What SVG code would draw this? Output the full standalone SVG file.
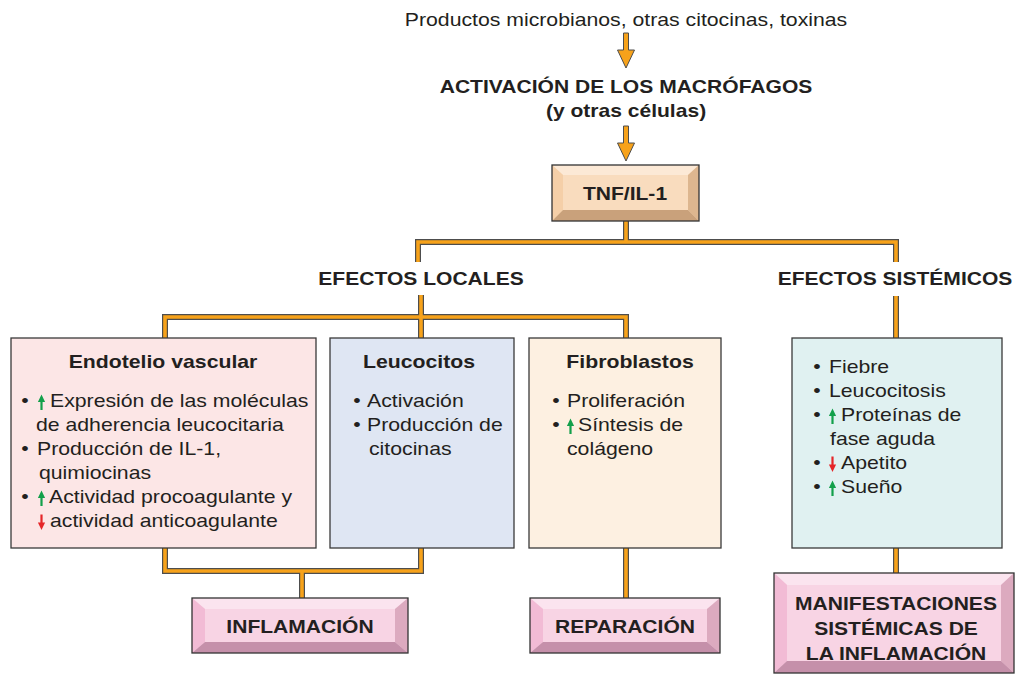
<svg xmlns="http://www.w3.org/2000/svg" xmlns:xlink="http://www.w3.org/1999/xlink" width="1015" height="674" viewBox="0 0 1015 674">
<style>
  text { font-family: "Liberation Sans", Arial, sans-serif; font-size: 18px; fill: #231f20; }
  .b { font-weight: bold; }
  .m { text-anchor: middle; }
  .box { stroke: #3a3a3a; stroke-width: 1.3; }
  .cout { fill: none; stroke: #4d4d4d; stroke-width: 6; stroke-linejoin: miter; }
  .cin { fill: none; stroke: #f7a21a; stroke-width: 3.6; stroke-linejoin: miter; }
  .arrow { fill: #f7a21a; stroke: #4d4d4d; stroke-width: 1; }
  .edge { fill: none; stroke: #333; stroke-width: 1.3; }
</style>
<defs>
  <path id="up" d="M0 -15.5 L3.6 -8 H1.1 V0 H-1.1 V-8 H-3.6 Z" fill="#13a04b"/>
  <path id="dn" d="M0 0 L3.6 -7.5 H1.1 V-15.5 H-1.1 V-7.5 H-3.6 Z" fill="#e52629"/>
</defs>
<rect width="1015" height="674" fill="#ffffff"/>

<g id="connectors">
  <path class="arrow" d="M623.5 33 H628.5 V50 H634.5 L626 68 L617.5 50 H623.5 Z"/>
  <path class="arrow" d="M623.5 126 H628.5 V143 H634.5 L626 161 L617.5 143 H623.5 Z"/>
  <path class="cout" d="M418 262 V242 H896 V262 M626 221 V242 M165 338 V317 H626 V338 M421 295 V338 M896 296 V338 M165 548 V571 H421 V548 M302 571 V598 M626 548 V598 M896 548 V573"/>
  <path class="cin" d="M418 262 V242 H896 V262 M626 221 V242 M165 338 V317 H626 V338 M421 295 V338 M896 296 V338 M165 548 V571 H421 V548 M302 571 V598 M626 548 V598 M896 548 V573"/>
</g>

<g id="source">
  <text class="m" transform="translate(626,26) scale(1.18,1)">Productos microbianos, otras citocinas, toxinas</text>
</g>

<g id="activacion">
  <text class="b m" transform="translate(626,93) scale(1.17,1)">ACTIVACIÓN DE LOS MACRÓFAGOS</text>
  <text class="b m" transform="translate(626,117) scale(1.17,1)">(y otras células)</text>
</g>

<g id="tnf">
  <rect x="552" y="165" width="147" height="56" fill="#f9dcbe"/>
  <polygon points="552,165 699,165 688,175 563,175" fill="#fce9d6"/>
  <polygon points="552,165 563,175 563,210 552,221" fill="#f5cfa8"/>
  <polygon points="699,165 699,221 688,210 688,175" fill="#ddb68f"/>
  <polygon points="552,221 563,210 688,210 699,221" fill="#c9a17b"/>
  <rect class="edge" x="552" y="165" width="147" height="56"/>
  <text class="b m" transform="translate(625,200) scale(1.17,1)">TNF/IL-1</text>
</g>

<g id="efectos-locales">
  <text class="b m" transform="translate(421,285) scale(1.17,1)">EFECTOS LOCALES</text>
</g>

<g id="efectos-sistemicos">
  <text class="b m" transform="translate(895,285) scale(1.17,1)">EFECTOS SISTÉMICOS</text>
</g>

<g id="endotelio">
  <rect class="box" x="11" y="338" width="305" height="210" fill="#fce6e6"/>
  <text class="b m" transform="translate(163,368) scale(1.18,1)">Endotelio vascular</text>
  <text class="m" transform="translate(25,407) scale(1.18,1)">•</text>
  <use href="#up" x="41.5" y="410"/>
  <text transform="translate(50,407) scale(1.18,1)">Expresión de las moléculas</text>
  <text transform="translate(36,431) scale(1.18,1)">de adherencia leucocitaria</text>
  <text class="m" transform="translate(25,455) scale(1.18,1)">•</text>
  <text transform="translate(37,455) scale(1.18,1)">Producción de IL-1,</text>
  <text transform="translate(39,479) scale(1.18,1)">quimiocinas</text>
  <text class="m" transform="translate(25,503) scale(1.18,1)">•</text>
  <use href="#up" x="41.5" y="506"/>
  <text transform="translate(49,503) scale(1.18,1)">Actividad procoagulante y</text>
  <use href="#dn" x="41.5" y="530"/>
  <text transform="translate(50,527) scale(1.18,1)">actividad anticoagulante</text>
</g>

<g id="leucocitos">
  <rect class="box" x="330" y="338" width="184" height="210" fill="#dfe6f3"/>
  <text class="b m" transform="translate(419,368) scale(1.18,1)">Leucocitos</text>
  <text class="m" transform="translate(357,407) scale(1.18,1)">•</text>
  <text transform="translate(367,407) scale(1.18,1)">Activación</text>
  <text class="m" transform="translate(357,431) scale(1.18,1)">•</text>
  <text transform="translate(367,431) scale(1.18,1)">Producción de</text>
  <text transform="translate(369,455) scale(1.18,1)">citocinas</text>
</g>

<g id="fibroblastos">
  <rect class="box" x="529" y="338" width="192" height="210" fill="#fdf0e1"/>
  <text class="b m" transform="translate(630,368) scale(1.18,1)">Fibroblastos</text>
  <text class="m" transform="translate(556,407) scale(1.18,1)">•</text>
  <text transform="translate(567,407) scale(1.18,1)">Proliferación</text>
  <text class="m" transform="translate(556,431) scale(1.18,1)">•</text>
  <use href="#up" x="570.5" y="434"/>
  <text transform="translate(578,431) scale(1.18,1)">Síntesis de</text>
  <text transform="translate(567,455) scale(1.18,1)">colágeno</text>
</g>

<g id="sistemicos">
  <rect class="box" x="792" y="338" width="210" height="210" fill="#e0f1f1"/>
  <text class="m" transform="translate(817,373) scale(1.18,1)">•</text>
  <text transform="translate(829,373) scale(1.18,1)">Fiebre</text>
  <text class="m" transform="translate(817,397) scale(1.18,1)">•</text>
  <text transform="translate(829,397) scale(1.18,1)">Leucocitosis</text>
  <text class="m" transform="translate(817,421) scale(1.18,1)">•</text>
  <use href="#up" x="832.5" y="424"/>
  <text transform="translate(841,421) scale(1.18,1)">Proteínas de</text>
  <text transform="translate(830,445) scale(1.18,1)">fase aguda</text>
  <text class="m" transform="translate(817,469) scale(1.18,1)">•</text>
  <use href="#dn" x="832.5" y="472"/>
  <text transform="translate(841,469) scale(1.18,1)">Apetito</text>
  <text class="m" transform="translate(817,493) scale(1.18,1)">•</text>
  <use href="#up" x="832.5" y="496"/>
  <text transform="translate(841,493) scale(1.18,1)">Sueño</text>
</g>

<g id="inflamacion">
  <rect x="192" y="598" width="216" height="55" fill="#f8d4e4"/>
  <polygon points="192,598 408,598 395,609 205,609" fill="#fbe4ef"/>
  <polygon points="192,598 205,609 205,642 192,653" fill="#f2bbd5"/>
  <polygon points="408,598 408,653 395,642 395,609" fill="#dcaabf"/>
  <polygon points="192,653 205,642 395,642 408,653" fill="#c590aa"/>
  <rect class="edge" x="192" y="598" width="216" height="55"/>
  <text class="b m" transform="translate(300,633) scale(1.17,1)">INFLAMACIÓN</text>
</g>

<g id="reparacion">
  <rect x="530" y="598" width="190" height="55" fill="#f8d4e4"/>
  <polygon points="530,598 720,598 707,609 543,609" fill="#fbe4ef"/>
  <polygon points="530,598 543,609 543,642 530,653" fill="#f2bbd5"/>
  <polygon points="720,598 720,653 707,642 707,609" fill="#dcaabf"/>
  <polygon points="530,653 543,642 707,642 720,653" fill="#c590aa"/>
  <rect class="edge" x="530" y="598" width="190" height="55"/>
  <text class="b m" transform="translate(625,633) scale(1.17,1)">REPARACIÓN</text>
</g>

<g id="manifestaciones">
  <rect x="774" y="573" width="240" height="100" fill="#f8d4e4"/>
  <polygon points="774,573 1014,573 1001,585 787,585" fill="#fbe4ef"/>
  <polygon points="774,573 787,585 787,661 774,673" fill="#f2bbd5"/>
  <polygon points="1014,573 1014,673 1001,661 1001,585" fill="#dcaabf"/>
  <polygon points="774,673 787,661 1001,661 1014,673" fill="#c590aa"/>
  <rect class="edge" x="774" y="573" width="240" height="100"/>
  <text class="b m" transform="translate(896,610) scale(1.17,1)">MANIFESTACIONES</text>
  <text class="b m" transform="translate(896,635) scale(1.17,1)">SISTÉMICAS DE</text>
  <text class="b m" transform="translate(896,660) scale(1.17,1)">LA INFLAMACIÓN</text>
</g>
</svg>
